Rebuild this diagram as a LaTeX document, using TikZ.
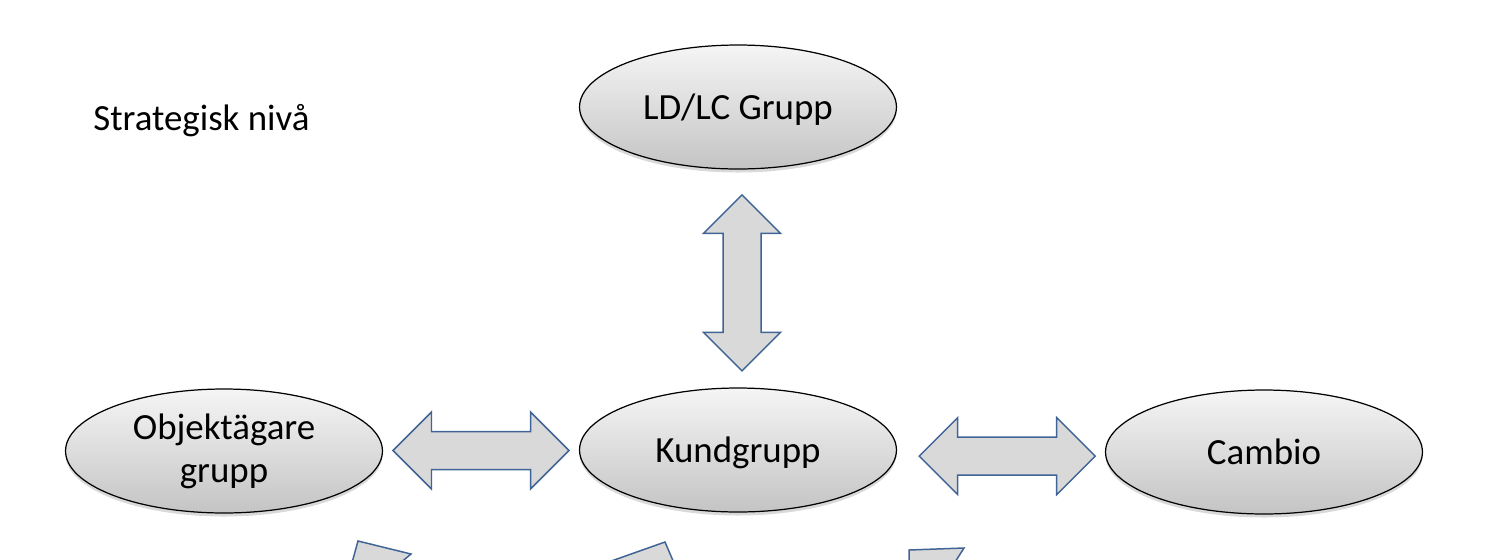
\documentclass[tikz,border=0pt]{standalone}
\usepackage{fontspec}
\setmainfont{Carlito}
\usetikzlibrary{shapes.geometric,shadows,calc}

\definecolor{arrowline}{RGB}{65,100,150}
\definecolor{arrowfill}{RGB}{217,217,217}
\definecolor{ovaltop}{RGB}{245,245,245}
\definecolor{ovalbot}{RGB}{196,196,196}

\tikzset{
  oval/.style={ellipse, draw=black, line width=0.7pt,
    top color=ovaltop, bottom color=ovalbot,
    minimum width=6.34cm, minimum height=2.48cm, inner sep=0pt,
    align=center, font=\fontsize{21}{24.5}\selectfont,
    drop shadow={shadow xshift=0pt, shadow yshift=-2pt, opacity=0.3}},
  blockpart/.style={draw=arrowline, fill=arrowfill, line width=0.85pt},
  dblblock/.pic={
    \filldraw[blockpart] (-88,0) -- (-49.5,-38.5) -- (-49.5,-19) -- (49.5,-19)
      -- (49.5,-38.5) -- (88,0) -- (49.5,38.5) -- (49.5,19) -- (-49.5,19)
      -- (-49.5,38.5) -- cycle;
  }
}

\begin{document}
\begin{tikzpicture}[x=0.02cm, y=-0.02cm]
    \useasboundingbox (0,0) rectangle (1489,559);
    \clip (0,0) rectangle (1489,559);

    \node[anchor=base west, inner sep=0pt, font=\fontsize{21}{24.5}\selectfont]
      (niva) at (93,130) {Strategisk nivå};

    \node[oval, text depth=-2pt] (ldlc) at (738,107) {LD/LC Grupp};
    \node[oval, text depth=0pt] (kund) at (738,450) {Kundgrupp};
    \node[oval] (objekt) at (224,451) {Objektägare\\grupp};
    \node[oval] (cambio) at (1264,452) {Cambio};

    \pic (objkund) at ($(objekt.east)!0.5!(kund.west)$) {dblblock};
    \pic (kundcambio) at ($(kund.east)!0.53!(cambio.west)+(0,5)$) {dblblock};
    \pic[rotate=90] (ldlckund) at ($(ldlc.south)!0.52!(kund.north)+(4,0)$) {dblblock};

    % arrows going on to the next level, cut by the page edge
    \filldraw[blockpart] (350,570) -- (358,541) -- (411,554) -- (392,570) -- cycle;
    \filldraw[blockpart] (586,570) -- (665,542) -- (677,570) -- cycle;
    \filldraw[blockpart] (909,570) -- (909,550) -- (964,548) -- (950,570) -- cycle;
  \end{tikzpicture}
\end{document}
